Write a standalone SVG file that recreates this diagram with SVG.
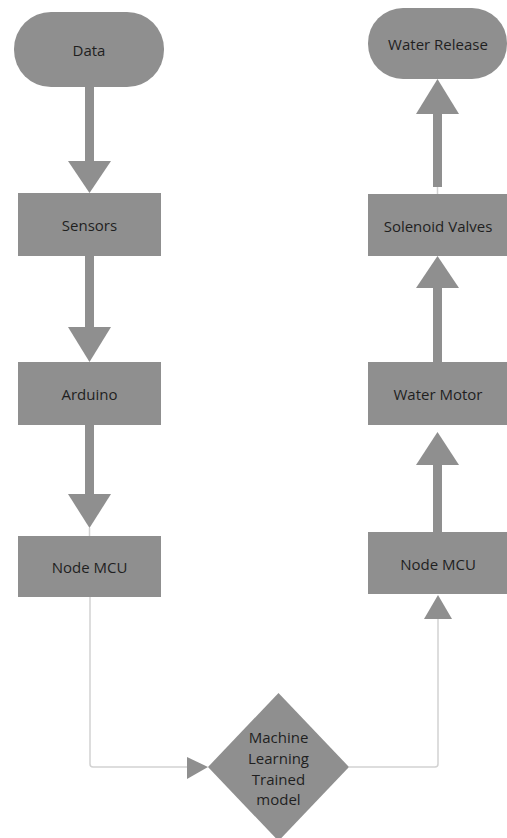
<svg xmlns="http://www.w3.org/2000/svg" width="507" height="838" viewBox="0 0 507 838">
<style>
.n{fill:#8f8f8f}
.t{font-family:"Open Sans","Noto Sans",sans-serif;font-size:15px;fill:#1f1f1f;text-anchor:middle;dominant-baseline:central}
.shaft{fill:#8f8f8f}
.thin{fill:none;stroke:#d2d2d2;stroke-width:1.5}
</style>
<g id="connectors">
  <rect class="shaft" x="85" y="87" width="9" height="75"/>
  <polygon class="n" points="68,161 111,161 89.5,193"/>
  <rect class="shaft" x="85" y="256" width="9" height="72"/>
  <polygon class="n" points="68,327 111,327 89.5,362"/>
  <rect class="shaft" x="85" y="425" width="9" height="70"/>
  <polygon class="n" points="68,494 111,494 89.5,528"/>
  <line class="thin" x1="89.5" y1="528" x2="89.5" y2="536"/>
  <rect class="shaft" x="433" y="114" width="9" height="73"/>
  <polygon class="n" points="416,114 459,114 437.5,79"/>
  <line class="thin" x1="437.5" y1="187" x2="437.5" y2="194"/>
  <rect class="shaft" x="433" y="287" width="9" height="76"/>
  <polygon class="n" points="416,288 459,288 437.5,256"/>
  <rect class="shaft" x="433" y="464" width="9" height="69"/>
  <polygon class="n" points="416,465 459,465 437.5,432"/>
  <path class="thin" d="M90,597 V764 Q90,767 93,767 H190"/>
  <polygon class="n" points="187,757 187,779 208,767"/>
  <path class="thin" d="M349,767 H435 Q438,767 438,764 V619"/>
  <polygon class="n" points="424,619 452,619 438,595"/>
</g>
<g id="data">
  <rect class="n" x="14" y="12" width="150" height="75" rx="37"/>
  <text class="t" x="89" y="50">Data</text>
</g>
<g id="sensors">
  <rect class="n" x="18" y="193" width="143" height="63"/>
  <text class="t" x="89.5" y="225">Sensors</text>
</g>
<g id="arduino">
  <rect class="n" x="18" y="362" width="143" height="63"/>
  <text class="t" x="89.5" y="394">Arduino</text>
</g>
<g id="nodemcu-left">
  <rect class="n" x="18" y="536" width="143" height="61"/>
  <text class="t" x="89.5" y="567">Node MCU</text>
</g>
<g id="ml-model">
  <polygon class="n" points="278.5,693 349,767 278.5,841 208,767"/>
  <text class="t" x="278.5" y="737">Machine</text>
  <text class="t" x="278.5" y="758">Learning</text>
  <text class="t" x="278.5" y="779">Trained</text>
  <text class="t" x="278.5" y="799">model</text>
</g>
<g id="nodemcu-right">
  <rect class="n" x="368" y="532" width="142" height="62"/>
  <text class="t" x="438" y="564">Node MCU</text>
</g>
<g id="water-motor">
  <rect class="n" x="368" y="362" width="142" height="63"/>
  <text class="t" x="438" y="394">Water Motor</text>
</g>
<g id="solenoid">
  <rect class="n" x="368" y="194" width="142" height="62"/>
  <text class="t" x="438" y="226">Solenoid Valves</text>
</g>
<g id="water-release">
  <rect class="n" x="368" y="8" width="139" height="71" rx="35"/>
  <text class="t" x="438" y="44">Water Release</text>
</g>
</svg>
